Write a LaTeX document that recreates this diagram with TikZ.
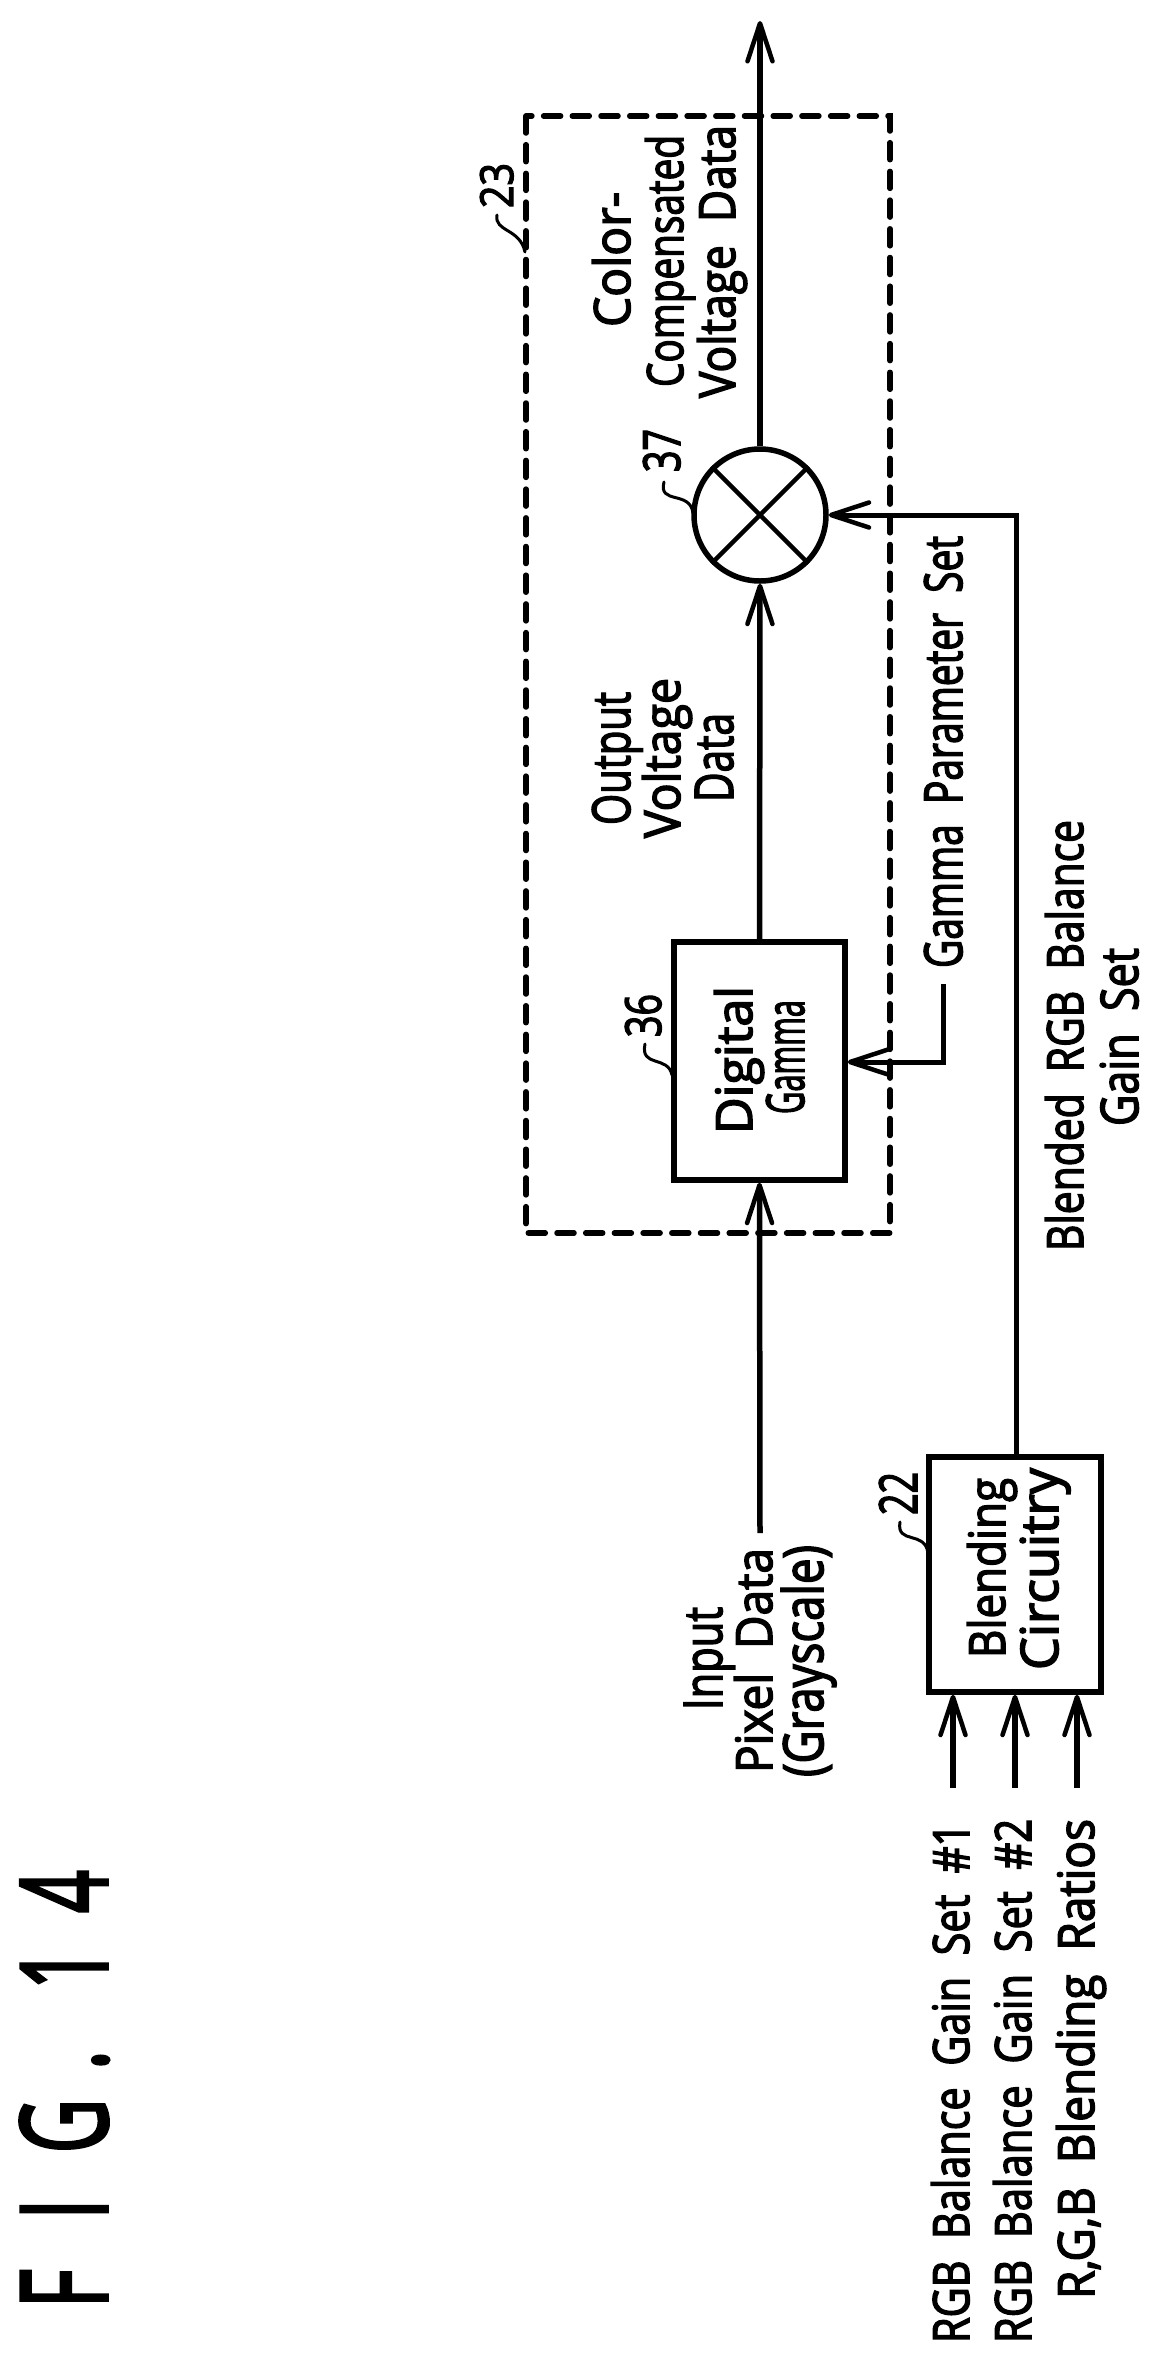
\documentclass[tikz,border=0pt]{standalone}
\usepackage{graphicx}
\usepackage{fontspec}
\setmainfont{Open Sans}
\newfontfamily\labfont[FakeBold=3]{Open Sans}
\newfontfamily\figfont[FakeBold=3]{Open Sans}
\usetikzlibrary{arrows.meta,calc}
\newcommand{\lab}[6]{\node[rotate=90,anchor=base west,inner sep=0pt,outer sep=0pt] (#1) at (#2,#3) {\resizebox{#4pt}{#5pt}{\labfont #6}};}
\tikzset{
  wire/.style={line width=5.5pt,line cap=butt},
  arr/.style={wire,-{Straight Barb[length=38pt,width=25pt,line width=4.5pt,round]}},
  arrthin/.style={wire,line width=5pt,-{Straight Barb[length=38pt,width=25pt,line width=4.5pt,round]}},
  blockbox/.style={draw,line width=5.5pt,minimum width=0pt,inner sep=0pt},
  lead/.style={line width=3pt,line cap=round},
  dashbox/.style={line width=5.5pt,line cap=round,dash pattern=on 17pt off 11.7pt}
}
\begin{document}
\begin{tikzpicture}[x=1pt,y=-1pt]
\useasboundingbox (0,0) rectangle (1158,2361);
% dashed frame
\draw[dashbox] (526,116) rectangle (890,1233);
% blocks
\node[blockbox,minimum width=171pt,minimum height=238pt] (gamma) at (759.5,1061) {};
\node[blockbox,minimum width=172pt,minimum height=235pt] (blend) at (1015,1574.5) {};
\node[draw,circle,line width=5.5pt,minimum size=132pt,inner sep=0pt] (mix) at (760,515) {};
\draw[line width=4.5pt] (mix.45) -- (mix.225) (mix.135) -- (mix.315);
% coordinates
\coordinate (outtop) at (760,21);
\coordinate (intail) at (760,1533);
\coordinate (gpstart) at (943.5,984);
\coordinate (gpcorner) at (943.5,1062);
\coordinate (blcorner) at (1016,515);
\coordinate (t1) at (953,1788);
\coordinate (t2) at (1015,1788);
\coordinate (t3) at (1077,1788);
% connectors
\draw[arr] (mix.north) -- (outtop);
\draw[arr] (gamma.north) -- (mix.south);
\draw[arr] (intail) -- (gamma.south);
\draw[arrthin] (gpstart) -- (gpcorner) -- (gamma.east |- gpcorner);
\draw[arrthin] (blend.north -| blcorner) -- (blcorner) -- (mix.east);
\draw[arr] (t1) -- (t1 |- blend.south);
\draw[arr] (t2) -- (t2 |- blend.south);
\draw[arr] (t3) -- (t3 |- blend.south);
% text
\lab{colorl}{630}{327}{135}{38}{Color-}
\lab{compl}{683}{387}{252}{38}{Compensated}
\lab{voltl}{735}{398}{273}{38}{Voltage\ \ Data}
\lab{outl}{630}{825}{133}{38}{Output}
\lab{volt2}{680}{838}{160}{38}{Voltage}
\lab{datal}{733}{802}{89}{38}{Data}
\lab{dig}{752}{1134}{148}{38}{Digital}
\lab{gam}{804}{1114}{114}{38}{Gamma}
\lab{gps}{962}{968}{432}{38}{Gamma\ \ Parameter\ \ Set}
\lab{brgb}{1083}{1251}{431}{38}{Blended\ \ RGB\ \ Balance}
\lab{gset}{1138}{1126}{178}{38}{Gain\ \ Set}
\lab{inl}{722}{1710}{103}{38}{Input}
\lab{pix}{772}{1773}{225}{38}{Pixel\ \ Data}
\lab{gray}{823}{1777}{232}{42}{(Grayscale)}
\lab{bl1}{1005}{1658}{180}{38}{Blending}
\lab{bl2}{1058}{1670}{202}{38}{Circuitry}
\lab{r1}{969}{2343}{520}{38}{RGB\ \ Balance\ \ Gain\ \ Set\ \ \#1}
\lab{r2}{1031}{2343}{524}{38}{RGB\ \ Balance\ \ Gain\ \ Set\ \ \#2}
\lab{r3}{1094}{2299}{480}{38}{R,G,B\ \ Blending\ \ Ratios}
\lab{n23}{513}{208}{45}{33}{23}
\lab{n37}{680}{472}{43}{37}{37}
\lab{n36}{661}{1037}{43}{36}{36}
\lab{n22}{917}{1515}{43}{38}{22}
\node[rotate=90,anchor=base west,inner sep=0pt,outer sep=0pt] (fig) at (107,2308) {\resizebox{438pt}{87pt}{\figfont F\hspace{.66em}I\hspace{.6em}G\hspace{.38em}.\hspace{.8em}1\hspace{.45em}4}};
% leaders
\coordinate (l23) at (497,215); \coordinate (l23e) at (525,252);
\draw[lead] (l23) .. controls (494,232) and (520,228) .. (l23e);
\coordinate (l37) at (664,482); \coordinate (l37e) at (693,513);
\draw[lead] (l37) .. controls (658,505) and (690,490) .. (l37e);
\coordinate (l36) at (645,1044); \coordinate (l36e) at (672,1075);
\draw[lead] (l36) .. controls (640,1068) and (668,1055) .. (l36e);
\coordinate (l22) at (900,1522); \coordinate (l22e) at (928,1553);
\draw[lead] (l22) .. controls (896,1545) and (925,1530) .. (l22e);
\end{tikzpicture}
\end{document}
